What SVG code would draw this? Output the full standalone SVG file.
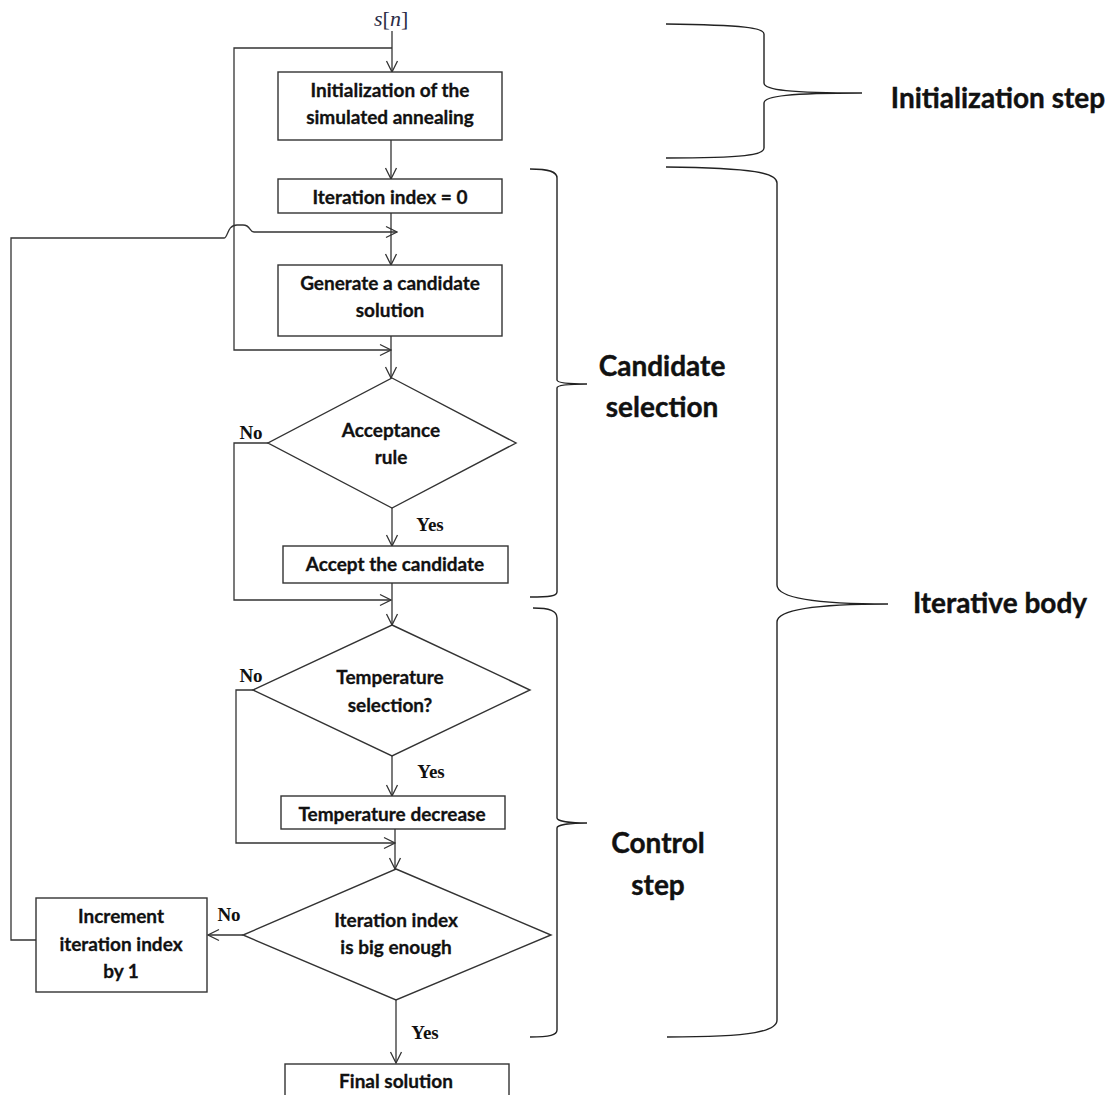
<svg xmlns="http://www.w3.org/2000/svg" width="1115" height="1095" viewBox="0 0 1115 1095">
<defs>
<marker id="arr" markerWidth="13" markerHeight="14" refX="12" refY="7" orient="auto" markerUnits="userSpaceOnUse">
<path d="M1,1.5 L12,7 L1,12.5" fill="none" stroke="#333" stroke-width="1.3"/>
</marker>
</defs>
<style>
.box{fill:#fff;stroke:#333;stroke-width:1.4}
.ln{fill:none;stroke:#333;stroke-width:1.3}
.br{fill:none;stroke:#222;stroke-width:1.4}
.t{font-family:Lato,"Liberation Sans",sans-serif;font-weight:700;font-size:19px;fill:#111;stroke:#111;stroke-width:0.3;text-anchor:middle}
.bl{font-family:Lato,"Liberation Sans",sans-serif;font-weight:700;font-size:28px;fill:#111;stroke:#111;stroke-width:0.4;text-anchor:middle}
.yn{font-family:"Liberation Serif",serif;font-weight:700;font-size:19px;fill:#111;text-anchor:middle}
.sn{font-family:"Liberation Serif",serif;font-size:22px;fill:#2b2b45}
</style>
<rect width="1115" height="1095" fill="#fff"/>

<g id="connectors">
<path class="ln" d="M392,31 V72" marker-end="url(#arr)"/>
<path class="ln" d="M392,48 H234 V350 H391" marker-end="url(#arr)"/>
<path class="ln" d="M391,140 V179" marker-end="url(#arr)"/>
<path class="ln" d="M391,213 V265" marker-end="url(#arr)"/>
<path class="ln" d="M36,940 H11 V238 H224 C228,238 227,225 237,225 H243 C251,225 249,232 254,232 H397" marker-end="url(#arr)"/>
<path class="ln" d="M391,336 V378" marker-end="url(#arr)"/>
<path class="ln" d="M392,508 V546" marker-end="url(#arr)"/>
<path class="ln" d="M268,443 H234 V600 H391" marker-end="url(#arr)"/>
<path class="ln" d="M392,583 V625" marker-end="url(#arr)"/>
<path class="ln" d="M253,690 H236 V843 H395" marker-end="url(#arr)"/>
<path class="ln" d="M392,756 V796" marker-end="url(#arr)"/>
<path class="ln" d="M395,829 V869" marker-end="url(#arr)"/>
<path class="ln" d="M243,935 H208" marker-end="url(#arr)"/>
<path class="ln" d="M396,1000 V1063" marker-end="url(#arr)"/>
</g>

<g id="input">
<text class="sn" x="374" y="26"><tspan font-style="italic">s</tspan>[<tspan font-style="italic">n</tspan>]</text>
</g>

<g id="init">
<rect class="box" x="278" y="72" width="224" height="68"/>
<text class="t" x="390" y="97">Initialization of the</text>
<text class="t" x="390" y="124">simulated annealing</text>
</g>

<g id="iter0">
<rect class="box" x="278" y="179" width="224" height="34"/>
<text class="t" x="390" y="204">Iteration index = 0</text>
</g>

<g id="generate">
<rect class="box" x="278" y="265" width="224" height="71"/>
<text class="t" x="390" y="290">Generate a candidate</text>
<text class="t" x="390" y="317">solution</text>
</g>

<g id="acceptance">
<polygon class="box" points="392,378 516,443 392,508 268,443"/>
<text class="t" x="391" y="437">Acceptance</text>
<text class="t" x="391" y="464">rule</text>
<text class="yn" x="251" y="439">No</text>
<text class="yn" x="430" y="531">Yes</text>
</g>

<g id="accept">
<rect class="box" x="283" y="546" width="225" height="37"/>
<text class="t" x="395" y="571">Accept the candidate</text>
</g>

<g id="temperature">
<polygon class="box" points="392,625 530,690 392,756 253,690"/>
<text class="t" x="390" y="684">Temperature</text>
<text class="t" x="390" y="712">selection?</text>
<text class="yn" x="251" y="682">No</text>
<text class="yn" x="431" y="778">Yes</text>
</g>

<g id="decrease">
<rect class="box" x="281" y="796" width="224" height="33"/>
<text class="t" x="392" y="821">Temperature decrease</text>
</g>

<g id="bigenough">
<polygon class="box" points="396,869 551,935 396,1000 243,935"/>
<text class="t" x="396" y="927">Iteration index</text>
<text class="t" x="396" y="954">is big enough</text>
<text class="yn" x="229" y="921">No</text>
<text class="yn" x="425" y="1039">Yes</text>
</g>

<g id="increment">
<rect class="box" x="36" y="898" width="171" height="94"/>
<text class="t" x="121" y="923">Increment</text>
<text class="t" x="121" y="951">iteration index</text>
<text class="t" x="121" y="978">by 1</text>
</g>

<g id="final">
<rect class="box" x="285" y="1064" width="224" height="40"/>
<text class="t" x="396" y="1088">Final solution</text>
</g>

<g id="braces">
<path class="br" d="M666,24 C745,25 764,28 764,34 V83 C764,90 790,93 862,93 C790,93 764,96 764,103 V148 C764,155 745,158 666,158"/>
<path class="br" d="M666,167 C755,168 777,173 777,183 V585 C777,597 810,604 888,604 C810,604 777,611 777,622 V1020 C777,1031 755,1037 667,1037"/>
<path class="br" d="M530,169 C550,169 557,172 557,178 V380 C557,383 570,384 587,384 C570,384 557,385 557,388 V592 C557,596 550,597 530,597"/>
<path class="br" d="M533,608 C550,608 557,611 557,618 V818 C557,821 570,823 587,823 C570,823 557,825 557,828 V1030 C557,1035 550,1037 530,1037"/>
</g>

<g id="labels">
<text class="bl" x="998" y="108">Initialization step</text>
<text class="bl" x="662" y="376">Candidate</text>
<text class="bl" x="662" y="417">selection</text>
<text class="bl" x="1000" y="613">Iterative body</text>
<text class="bl" x="658" y="853">Control</text>
<text class="bl" x="658" y="895">step</text>
</g>
</svg>
